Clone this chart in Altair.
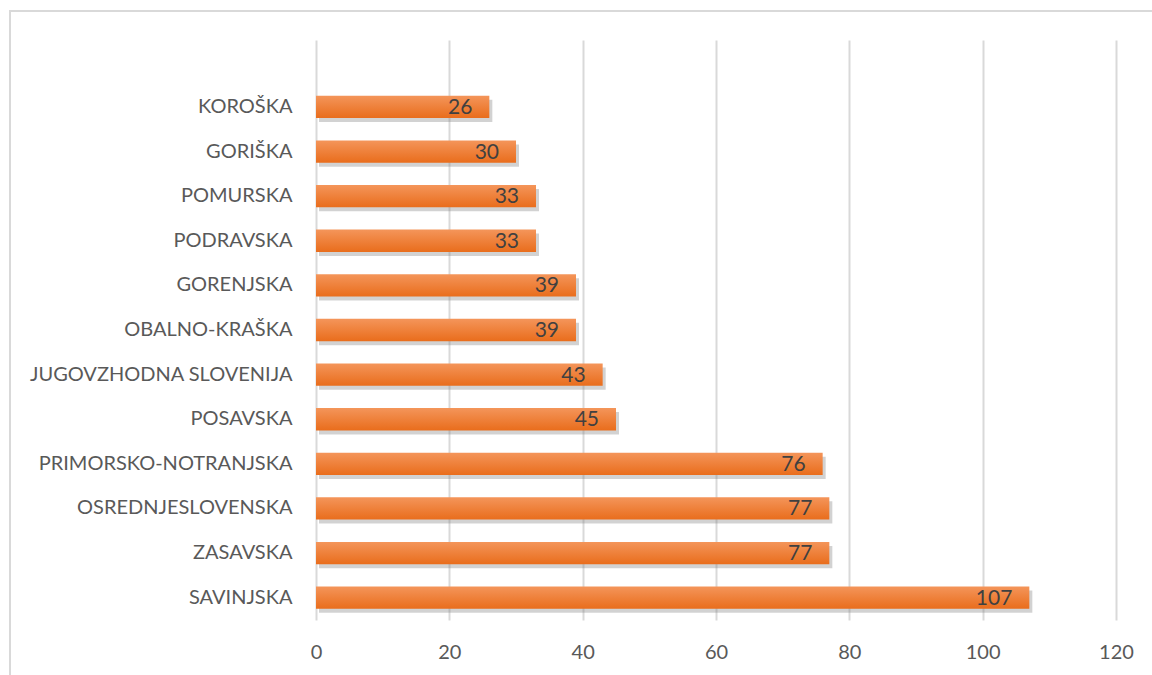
import altair as alt
import pandas as pd

regions = ["KOROŠKA", "GORIŠKA", "POMURSKA", "PODRAVSKA", "GORENJSKA", "OBALNO-KRAŠKA",
           "JUGOVZHODNA SLOVENIJA", "POSAVSKA", "PRIMORSKO-NOTRANJSKA", "OSREDNJESLOVENSKA",
           "ZASAVSKA", "SAVINJSKA"]
values = [26, 30, 33, 33, 39, 39, 43, 45, 76, 77, 77, 107]
x_ticks = [0, 20, 40, 60, 80, 100, 120]

df = pd.DataFrame({"region": regions, "value": values})
domain = ["__blank__"] + regions

FONT = "Lato"
W, H = 800, 580
PL, PT = 316, 40

yscale = alt.Scale(domain=domain, paddingInner=0.5, paddingOuter=0.25)
xscale = alt.Scale(domain=[0, 120], nice=False)

base = alt.Chart(df)

y_enc = alt.Y("region:N", scale=yscale, title=None,
              axis=alt.Axis(labelExpr="datum.value == '__blank__' ? '' : datum.value",
                            labelFont=FONT, labelFontSize=20, labelColor="#595959",
                            labelLimit=0, labelPadding=24, ticks=False, domain=False, grid=False))
x_enc = alt.X("value:Q", scale=xscale, title=None,
              axis=alt.Axis(values=x_ticks, labelFont=FONT, labelFontSize=20,
                            labelColor="#595959", labelPadding=22, labelFlush=False,
                            ticks=False, domain=False, grid=True,
                            gridColor="#D9D9D9", gridWidth=2))

shadow = base.mark_bar(color="#7f7f7f", opacity=0.35, xOffset=3, yOffset=4).encode(
    x=alt.X("value:Q", scale=xscale), y=alt.Y("region:N", scale=yscale)
)

bars = base.mark_bar(
    color=alt.Gradient(
        gradient="linear",
        stops=[alt.GradientStop(color="#F4955A", offset=0),
               alt.GradientStop(color="#E96D1C", offset=1)],
        x1=0, x2=0, y1=0, y2=1,
    )
).encode(x=x_enc, y=y_enc)

labels = base.mark_text(align="right", baseline="middle", dx=-17, dy=1,
                        font=FONT, fontSize=21, color="#404040").encode(
    x=alt.X("value:Q", scale=xscale), y=alt.Y("region:N", scale=yscale),
    text="value:Q"
)

border = alt.Chart(pd.DataFrame({"k": [0]})).mark_rect(
    fill=None, stroke="#D9D9D9", strokeWidth=2
).encode(
    x=alt.value(10 - PL), x2=alt.value(1152 - PL + 20),
    y=alt.value(11 - PT), y2=alt.value(675 - PT + 20)
)

chart = alt.layer(border, shadow, bars, labels).properties(
    width=W, height=H,
    autosize=alt.AutoSizeParams(type="none"),
    padding={"left": PL, "top": PT, "right": 1152 - PL - W, "bottom": 675 - PT - H},
    background="white",
).configure_view(stroke=None)

chart.save("out.html", embed_options={"renderer": "svg", "actions": False})
